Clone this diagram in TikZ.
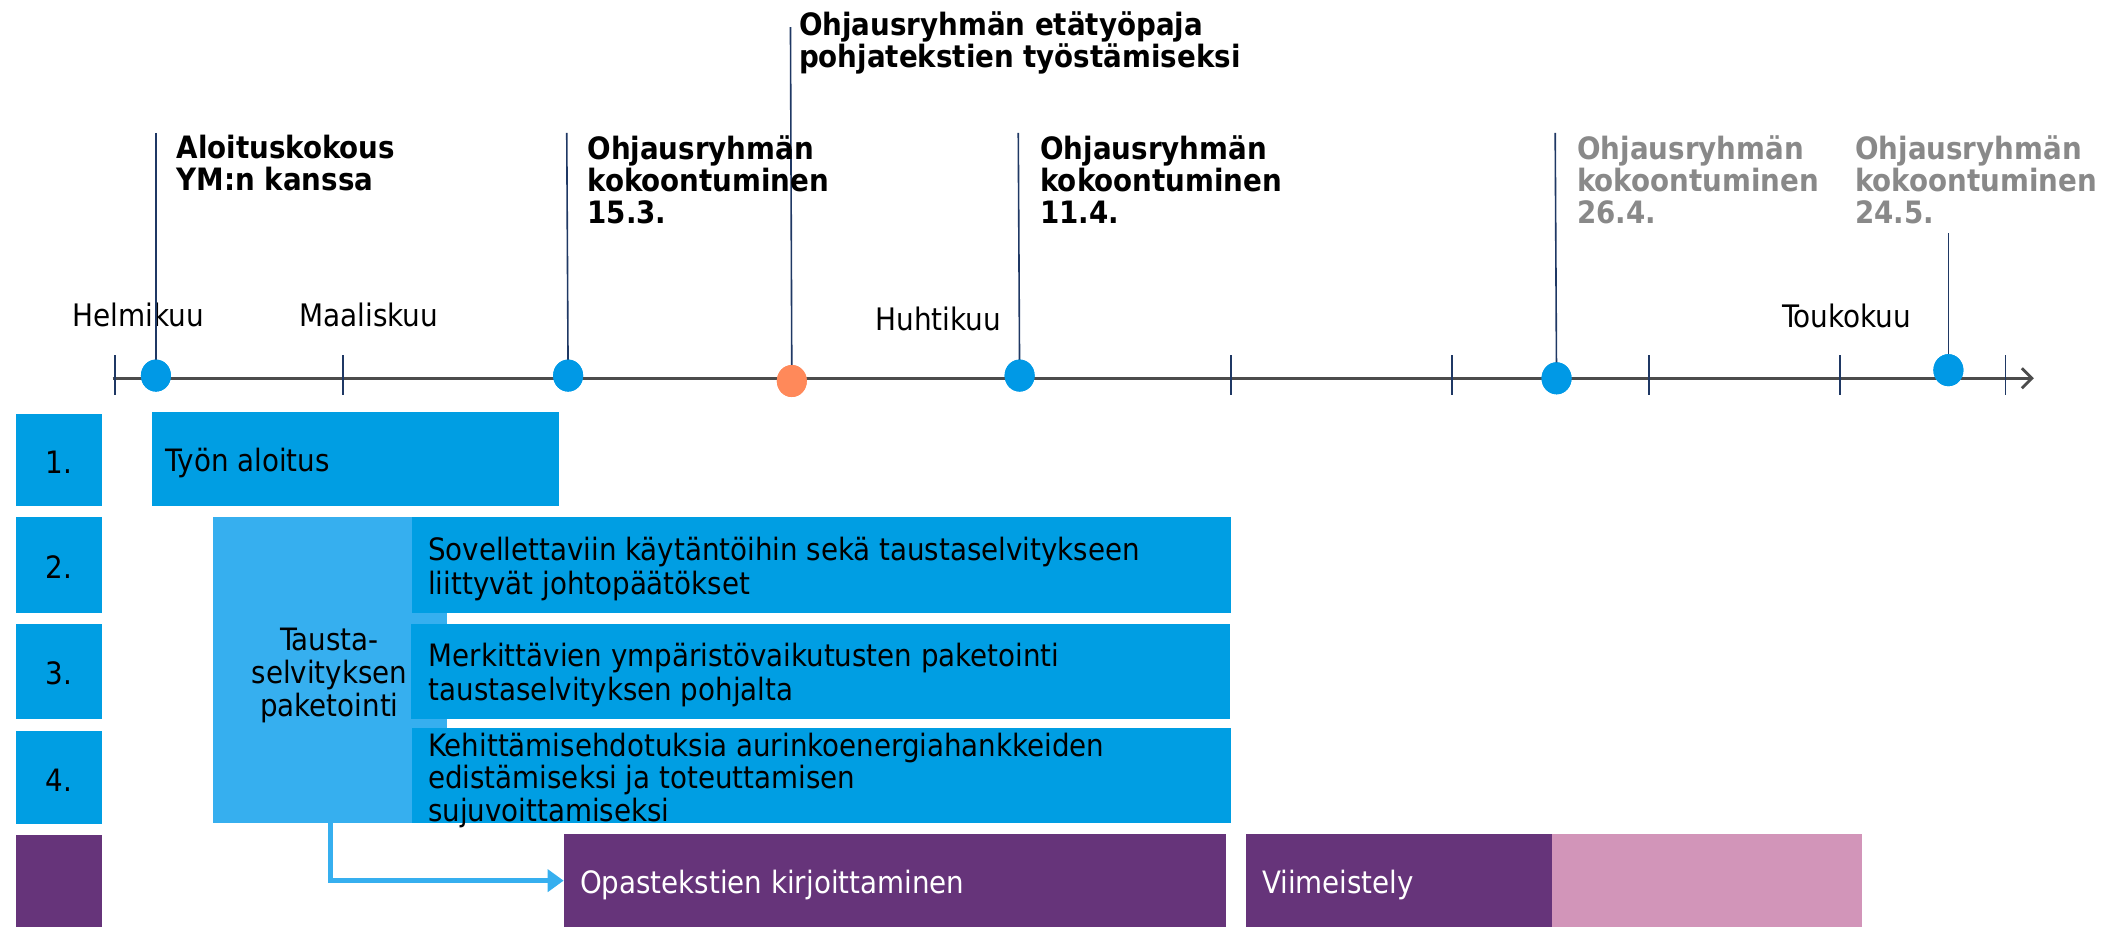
\documentclass[tikz,border=0pt]{standalone}
\usepackage{fontspec}
\setmainfont{DejaVu Sans Condensed}
\usetikzlibrary{arrows.meta,shapes.geometric,fit}
\definecolor{blueA}{RGB}{0,158,227}
\definecolor{blueL}{RGB}{54,175,239}
\definecolor{purp}{RGB}{102,52,122}
\definecolor{pinkc}{RGB}{210,149,185}
\definecolor{navy}{RGB}{31,56,100}
\definecolor{orng}{RGB}{255,137,90}
\definecolor{grayt}{RGB}{137,137,137}
\definecolor{dotb}{RGB}{0,153,230}
\begin{document}
\begin{tikzpicture}[x=0.678pt,y=-0.678pt,
  bar/.style={inner sep=0pt, draw=none},
  btext/.style={anchor=west, inner sep=0pt, align=left, font=\fontsize{15.4}{17}\selectfont},
  numtext/.style={inner sep=0pt, font=\fontsize{15.4}{16.6}\selectfont},
  evtext/.style={anchor=north west, inner sep=0pt, align=left, font=\bfseries\fontsize{15.4}{16}\selectfont},
  month/.style={inner sep=0pt, font=\fontsize{15.5}{16}\selectfont},
  evline/.style={draw=navy, line width=0.8pt},
  tick/.style={draw=navy, line width=0.8pt},
  bdot/.style={ellipse, fill=dotb, minimum width=15pt, minimum height=16pt, inner sep=0pt},
  odot/.style={ellipse, fill=orng, minimum width=15pt, minimum height=16pt, inner sep=0pt},
  flow/.style={draw=blueL, line width=2.4pt, -{Triangle[length=8pt,width=11pt]}}
]
\useasboundingbox (0,0) rectangle (1568,684);

% axis
\coordinate (axL) at (83,279);
\coordinate (axR) at (1500,279);
\draw[black!70, line width=1.4pt, -{Straight Barb[length=5pt,width=10pt]}] (axL) -- (axR);
% ticks
\foreach \tx/\tn in {85/ta,253/tb,908/tc,1071/td,1216/te,1357/tf,1479/tg}{
  \coordinate (\tn1) at (\tx,262);
  \coordinate (\tn2) at (\tx,291);
  \draw[tick] (\tn1) -- (\tn2);
}

% months
\node[month] (m1) at (102,232) {Helmikuu};
\node[month] (m2) at (272,232) {Maaliskuu};
\node[month] (m3) at (692,235) {Huhtikuu};
\node[month] (m4) at (1362,233) {Toukokuu};

% event lines and dots
\coordinate (e1t) at (115,98);
\coordinate (e2t) at (418,98);
\coordinate (e3t) at (583,20);
\coordinate (e4t) at (751,98);
\coordinate (e5t) at (1147,98);
\coordinate (e6t) at (1437,172);
\node[bdot] (d1) at (115,277) {};
\node[bdot] (d2) at (419,277) {};
\node[odot] (d3) at (584,281) {};
\node[bdot] (d4) at (752,277) {};
\node[bdot] (d5) at (1148,279) {};
\node[bdot] (d6) at (1437,273) {};
\draw[evline] (e1t) -- (d1.center);
\draw[evline] (e2t) -- (d2.center);
\draw[evline] (e3t) -- (d3.center);
\draw[evline] (e4t) -- (d4.center);
\draw[evline] (e5t) -- (d5.center);
\draw[evline] (e6t) -- (d6.center);
\node[bdot] at (d1) {};
\node[bdot] at (d2) {};
\node[odot] at (d3) {};
\node[bdot] at (d4) {};
\node[bdot] at (d5) {};
\node[bdot] at (d6) {};

% event labels
\node[evtext] (l1) at (130,99) {Aloituskokous\\YM:n kanssa};
\node[evtext] (l2) at (433,100) {Ohjausryhmän\\kokoontuminen\\15.3.};
\node[evtext] (l3) at (589,8) {Ohjausryhmän etätyöpaja\\pohjatekstien työstämiseksi};
\node[evtext] (l4) at (767,100) {Ohjausryhmän\\kokoontuminen\\11.4.};
\node[evtext, text=grayt] (l5) at (1163,100) {Ohjausryhmän\\kokoontuminen\\26.4.};
\node[evtext, text=grayt] (l6) at (1368,100) {Ohjausryhmän\\kokoontuminen\\24.5.};

% number column
\node[bar, fill=blueA, fit={(12,305) (75,373)}] (n1) {};
\node[bar, fill=blueA, fit={(12,381) (75,452)}] (n2) {};
\node[bar, fill=blueA, fit={(12,460) (75,530)}] (n3) {};
\node[bar, fill=blueA, fit={(12,539) (75,608)}] (n4) {};
\node[bar, fill=purp, fit={(12,616) (75,684)}] (n5) {};
\node[numtext] at ([yshift=-1.2pt]n1.center) {1.};
\node[numtext] at ([yshift=-1.2pt]n2.center) {2.};
\node[numtext] at ([yshift=-1.2pt]n3.center) {3.};
\node[numtext] at ([yshift=-1.2pt]n4.center) {4.};

% task bars
\node[bar, fill=blueA, fit={(112,304) (412,373)}] (b1) {};
\node[btext] (t1) at ([xshift=7pt,yshift=-2pt]b1.west) {Työn aloitus};

\node[bar, fill=blueL, fit={(157,381) (330,607)}] (taus) {};
\node[numtext, align=center] (taust) at (243,498) {Tausta-\\selvityksen\\paketointi};

\node[bar, fill=blueA, fit={(304,381) (908,452)}] (b2) {};
\node[btext] (t2) at ([xshift=8pt,yshift=-2pt]b2.west) {Sovellettaviin käytäntöihin sekä taustaselvitykseen\\liittyvät johtopäätökset};
\node[bar, fill=blueA, fit={(303,460) (907,530)}] (b3) {};
\node[btext] (t3) at ([xshift=9pt,yshift=-2pt]b3.west) {Merkittävien ympäristövaikutusten paketointi\\taustaselvityksen pohjalta};
\node[bar, fill=blueA, fit={(304,537) (908,607)}] (b4) {};
\node[btext, font=\fontsize{15.4}{16.3}\selectfont] (t4) at ([xshift=8pt,yshift=-2.3pt]b4.west) {Kehittämisehdotuksia aurinkoenergiahankkeiden\\edistämiseksi ja toteuttamisen\\sujuvoittamiseksi};

\node[bar, fill=purp, fit={(416,615) (904,684)}] (opas) {};
\node[btext, text=white] (t5) at ([xshift=8pt,yshift=-2pt]opas.west) {Opastekstien kirjoittaminen};
\node[bar, fill=purp, fit={(919,615) (1145,684)}] (viim) {};
\node[btext, text=white] (t6) at ([xshift=8pt,yshift=-2pt]viim.west) {Viimeistely};
\node[bar, fill=pinkc, fit={(1145,615) (1373,684)}] (pink) {};

% flow arrow
\draw[flow] (taus.south) |- (opas.west);
\end{tikzpicture}
\end{document}
